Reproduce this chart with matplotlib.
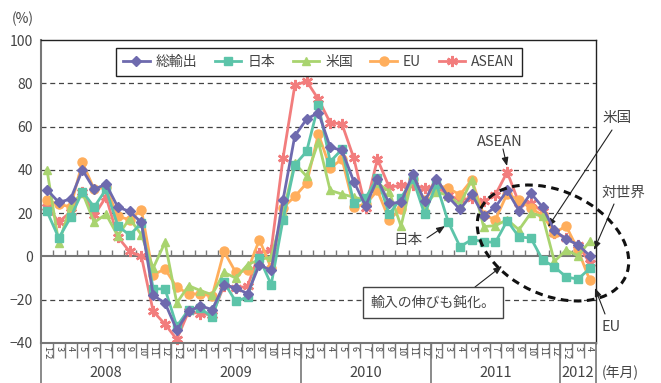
import matplotlib.pyplot as plt
import matplotlib.transforms as mtransforms
from matplotlib.patches import Ellipse, Rectangle

plt.rcParams['font.family'] = ['Noto Sans CJK JP', 'DejaVu Sans']

# 前年同月比 (%)、1-2月は合算
years = ['2008', '2009', '2010', '2011', '2012']
months = ['1-2', '3', '4', '5', '6', '7', '8', '9', '10', '11', '12']
periods = months * 4 + months[:3]

total = [30.8, 25, 26.5, 40, 31, 33.4, 22.8, 20.8, 15.7, -18, -21.5,
         -34, -25.4, -22.8, -24.6, -13, -14.6, -17.2, -3.8, -6.5, 26, 55.7,
         63.4, 66.5, 50.5, 49, 34.6, 23.4, 35.7, 24.5, 25, 38, 25.4,
         36, 27.5, 21.7, 28.7, 18.9, 22.8, 30.5, 21.2, 29.2, 22.8, 12,
         8, 5.4, 0.3]
japan = [20.8, 8.5, 18, 30, 22.8, 31, 14.2, 9.8, 15.4, -15, -15,
         -32.3, -24.6, -24, -28, -12, -20.8, -18.8, -0.8, -13, 17, 42.3,
         48.5, 70, 43.8, 49.5, 24.6, 27, 36.3, 19.5, 27, 36, 19.5,
         33.5, 16, 4.5, 7.8, 6.8, 6.5, 16.5, 9, 8.5, -1.6, -4.8,
         -9.5, -10.5, -5.5]
usa = [40, 6, 23.5, 29.5, 15.7, 19.5, 9.5, 17.5, 10, -5.4, 6.5,
       -21.5, -13.5, -15.8, -17.7, -7.4, -10, -3.8, -1.5, -0.3, 20, 43,
       37, 53, 30.5, 28.8, 27.4, 26, 34, 30, 14, 37, 23,
       30, 28, 24, 35.4, 13.8, 14.2, 17, 12.3, 20, 18.5, -2.3,
       3, 0.3, 7]
eu = [26, 24, 23, 43.4, 31, 32, 18.5, 17, 21.5, -8.5, -5.8,
      -14.3, -17.2, -17.4, -18.2, 2.3, -7.4, -6.5, 7.7, -5.4, 22.5, 27.7,
      33.8, 56.6, 40.8, 45, 23, 24, 30.5, 17, 22, 36, 26,
      33, 31.5, 28.5, 35.4, 19.2, 17, 29, 26, 22.3, 19, 11,
      14, 3, -11]
asean = [23, 16, 20.5, 30, 19, 27.5, 9, 2.3, 0, -25.4, -31.3,
         -38.3, -25.4, -26.5, -27, -13.5, -14.6, -13.8, 1.8, 3, 45.4, 79,
         81, 72.6, 61.8, 61.2, 45.4, 22.3, 45, 32, 32.8, 33, 31.5,
         32.3, 28.5, 26, 27, 25.4, 28.5, 39, 24.6, 24.6, 20.8, 10.8,
         8.5, 5.4, -3]

series = [
    ('総輸出', total, '#6e6aae', 'D', 5.5, 1.0),
    ('日本', japan, '#5cc4a9', 's', 6, 1.0),
    ('米国', usa, '#a9d46f', '^', 6, 1.0),
    ('EU', eu, '#ffae5c', 'o', 6.5, 1.0),
    ('ASEAN', asean, '#f27d7d', (6, 2, 0), 8, 1.8),
]

txt = '#444444'
x = list(range(len(periods)))

fig = plt.figure(figsize=(6.61, 3.83), dpi=100)
ax = fig.add_axes([41.1 / 661, 1 - 343 / 383, 554.6 / 661, 303 / 383])

for k, (name, vals, c, m, ms, mew) in enumerate(series):
    ax.plot(x, vals, color=c, lw=2, marker=m, ms=ms, mfc=c, mec=c, mew=mew,
            label=name, zorder=6 - k, clip_on=False)

ax.set_xlim(-0.5, len(x) - 0.5)
ax.set_ylim(-40, 100)
ax.set_yticks(range(-40, 101, 20))
ax.tick_params(axis='y', length=0, pad=6, labelsize=10, labelcolor=txt)

for v in [-20, 20, 40, 60, 80]:
    ax.axhline(v, color='#444444', lw=0.9, ls=(0, (4, 3)), zorder=0)
ax.axhline(0, color='#777777', lw=1.5, zorder=1)

# 月の区切り
bounds = [i + 0.5 for i in x[:-1]]
ax.vlines(bounds, 0, 2.8, color='#777777', lw=1, zorder=1)
ax.set_xticks(x)
ax.set_xticklabels(periods, rotation=270, fontsize=6.5, color=txt)
ax.set_xticks(bounds, minor=True)
ax.tick_params(axis='x', which='major', length=0, pad=2)
ax.tick_params(axis='x', which='minor', length=10.5, width=1, color='#777777')

# 年の区切りと年ラベル
blend = mtransforms.blended_transform_factory(ax.transData, ax.transAxes)
starts = [0, 11, 22, 33, 44]
ends = [11, 22, 33, 44, 47]
for y0, y1, yr in zip(starts, ends, years):
    ax.plot([y0 - 0.5, y0 - 0.5], [0, -0.135], transform=blend, color='#777777',
            lw=1.2, clip_on=False)
    ax.text((y0 + y1 - 1) / 2, -0.1, yr, transform=blend, ha='center',
            va='center', fontsize=10.5, color=txt)
ax.plot([len(x) - 0.5] * 2, [0, -0.135], transform=blend, color='#777777',
        lw=1.2, clip_on=False)

for s in ['left', 'bottom']:
    ax.spines[s].set_color('#777777')
    ax.spines[s].set_linewidth(1.5)
for s in ['top', 'right']:
    ax.spines[s].set_color('#222222')
    ax.spines[s].set_linewidth(1)

leg = ax.legend(loc='upper center', bbox_to_anchor=(0.501, 0.974), ncol=5,
                fancybox=False, edgecolor='#222222', framealpha=1, fontsize=10,
                handlelength=1.9, columnspacing=1.25, handletextpad=0.45,
                borderpad=0.5, borderaxespad=0)
leg.get_frame().set_linewidth(1)
for t in leg.get_texts():
    t.set_color(txt)

# 注記 (画素座標)
px = mtransforms.Affine2D().scale(1 / 661, -1 / 383).translate(0, 1) + fig.transFigure
arrow = dict(arrowstyle='-|>,head_length=0.5,head_width=0.2', color='#222222',
             lw=0.8, shrinkA=0, shrinkB=0)


def note(label, pos, tail=None, tip=None, size=10.5):
    fig.text(pos[0], pos[1], label, transform=px, ha='center', va='center',
             fontsize=size, color=txt)
    if tail is not None:
        ax.annotate('', xy=tip, xytext=tail, xycoords=px, textcoords=px,
                    arrowprops=arrow, annotation_clip=False)


fig.text(23, 19, '(%)', transform=px, ha='center', va='center', fontsize=10, color=txt)
fig.text(620, 373, '(年月)', transform=px, ha='center', va='center', fontsize=10, color=txt)
note('ASEAN', (500, 142), (503, 149), (507, 166))
note('米国', (617, 118), (612, 130), (548, 227))
note('対世界', (623, 193), (614, 204), (594, 250))
note('EU', (611, 327), (605, 314), (595, 288))
note('日本', (408, 240), (427, 238), (445, 226))

fig.add_artist(Ellipse((553, 243), 160, 104, angle=25, transform=px, fill=False,
                       ec='#111111', lw=2.2, ls=(0, (2.5, 1.8)), zorder=8))
fig.add_artist(Rectangle((363, 287), 140, 31, transform=px, fc='white',
                         ec='#444444', lw=1, zorder=9))
fig.text(433, 302.5, '輸入の伸びも鈍化。', transform=px, ha='center', va='center',
         fontsize=10, color=txt, zorder=10)
ax.annotate('', xy=(502, 266), xytext=(475, 287), xycoords=px, textcoords=px,
            arrowprops=arrow, annotation_clip=False)

fig.savefig('out.png', dpi=100)
